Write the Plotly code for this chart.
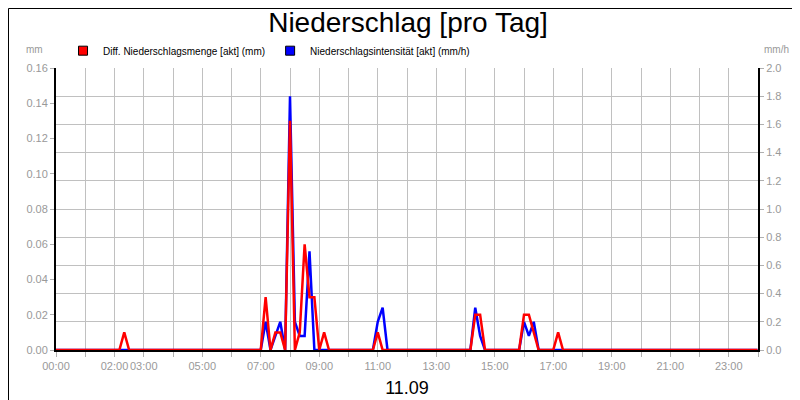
import pandas as pd
import plotly.graph_objects as go

day = "2024-09-11"

# Diff. Niederschlagsmenge (mm), 10-min values, zeros around the events
red_times = ["00:00", "02:10", "02:20", "02:30", "07:00", "07:10", "07:20", "07:30", "07:40", "07:50",
             "08:00", "08:10", "08:20", "08:30", "08:40", "08:50", "09:00", "09:10", "09:20",
             "10:50", "11:00", "11:10", "14:10", "14:20", "14:30", "14:40",
             "15:50", "16:00", "16:10", "16:20", "16:30", "17:00", "17:10", "17:20", "23:59"]
red_vals = [0, 0, 0.01, 0, 0, 0.03, 0, 0.01, 0.01, 0,
            0.13, 0, 0.01, 0.06, 0.03, 0.03, 0, 0.01, 0,
            0, 0.01, 0, 0, 0.02, 0.02, 0,
            0, 0.02, 0.02, 0.01, 0, 0, 0.01, 0, 0]

# Niederschlagsintensität (mm/h)
blue_times = ["00:00", "07:00", "07:10", "07:20", "07:30", "07:40", "07:50",
              "08:00", "08:10", "08:20", "08:30", "08:40", "08:50",
              "10:50", "11:00", "11:10", "11:20", "14:10", "14:20", "14:30", "14:40",
              "15:50", "16:00", "16:10", "16:20", "16:30", "23:59"]
blue_vals = [0, 0, 0.2, 0, 0.1, 0.2, 0,
             1.8, 0.2, 0.1, 0.1, 0.7, 0,
             0, 0.2, 0.3, 0, 0, 0.3, 0.1, 0,
             0, 0.2, 0.1, 0.2, 0, 0]

hours = pd.date_range(day, periods=25, freq="h")
shown = ["00:00", "02:00", "03:00", "05:00", "07:00", "09:00", "11:00", "13:00",
         "15:00", "17:00", "19:00", "21:00", "23:00"]
tick_text = [h.strftime("%H:%M") if h.strftime("%H:%M") in shown and h.day == 11 else "" for h in hours]

red_x = pd.to_datetime([f"{day} {t}" for t in red_times])
blue_x = pd.to_datetime([f"{day} {t}" for t in blue_times])

fig = go.Figure()
# blue on the base axis (right side), red on the overlay axis so it is drawn on top
fig.add_trace(go.Scatter(x=blue_x, y=blue_vals, mode="lines",
                         line=dict(color="#0000ff", width=2.5), showlegend=False))
fig.add_trace(go.Scatter(x=red_x, y=red_vals, yaxis="y2", mode="lines",
                         line=dict(color="#ff0000", width=2.5), showlegend=False))
# legend entries with square swatches
fig.add_trace(go.Scatter(x=[None], y=[None], mode="markers", name="Diff. Niederschlagsmenge [akt] (mm)",
                         marker=dict(symbol="square", size=9, color="#ff0000", line=dict(color="black", width=1))))
fig.add_trace(go.Scatter(x=[None], y=[None], mode="markers", name="Niederschlagsintensität [akt] (mm/h)",
                         marker=dict(symbol="square", size=9, color="#0000ff", line=dict(color="black", width=1))))

grey = "#b0b0b0"
fig.update_layout(
    width=800, height=400,
    margin=dict(l=48, r=50, t=60, b=58, autoexpand=False),
    paper_bgcolor="white", plot_bgcolor="white",
    font=dict(family="Liberation Sans, Arial", size=11, color="#999999"),
    title=dict(text="Niederschlag [pro Tag]", x=0.5, xanchor="center", y=0.99, yanchor="top",
               font=dict(size=28, color="black")),
    showlegend=True,
    legend=dict(orientation="h", x=0.01, y=1.01, yanchor="bottom", xanchor="left",
                font=dict(size=10, color="black"), itemwidth=30, tracegroupgap=0),
    xaxis=dict(range=[hours[0], hours[-1]], tickvals=hours, ticktext=tick_text, tickangle=0,
               automargin=False,
               showgrid=True, gridcolor="#c0c0c0", ticks="outside", ticklen=5, tickcolor=grey,
               showline=True, linecolor="black", linewidth=2,
               title=dict(text="11.09", font=dict(size=18, color="black"), standoff=10)),
    yaxis=dict(range=[0, 2.0], dtick=0.2, tickformat=".1f", side="right", automargin=False,
               showgrid=True, gridcolor="#c0c0c0",
               ticks="outside", ticklen=4, tickcolor=grey, zeroline=False,
               showline=True, linecolor="black", linewidth=2),
    yaxis2=dict(range=[0, 0.16], dtick=0.02, tickformat=".2f", overlaying="y", side="left",
                automargin=False, showgrid=False, ticks="outside", ticklen=4, tickcolor=grey,
                zeroline=False, showline=True, linecolor="black", linewidth=2),
    annotations=[
        dict(text="mm", xref="paper", yref="paper", x=-0.03, y=1.04, showarrow=False,
             xanchor="center", yanchor="bottom", font=dict(size=10, color="#999999")),
        dict(text="mm/h", xref="paper", yref="paper", x=1.005, y=1.04, showarrow=False,
             xanchor="left", yanchor="bottom", font=dict(size=10, color="#999999")),
    ],
    shapes=[dict(type="rect", xref="paper", yref="paper",
                 x0=-47.5 / 702, x1=1 + 49.5 / 702, y0=-57.5 / 282, y1=1 + 59.5 / 282,
                 line=dict(color="black", width=1))],
)

fig.write_html("out.html")
